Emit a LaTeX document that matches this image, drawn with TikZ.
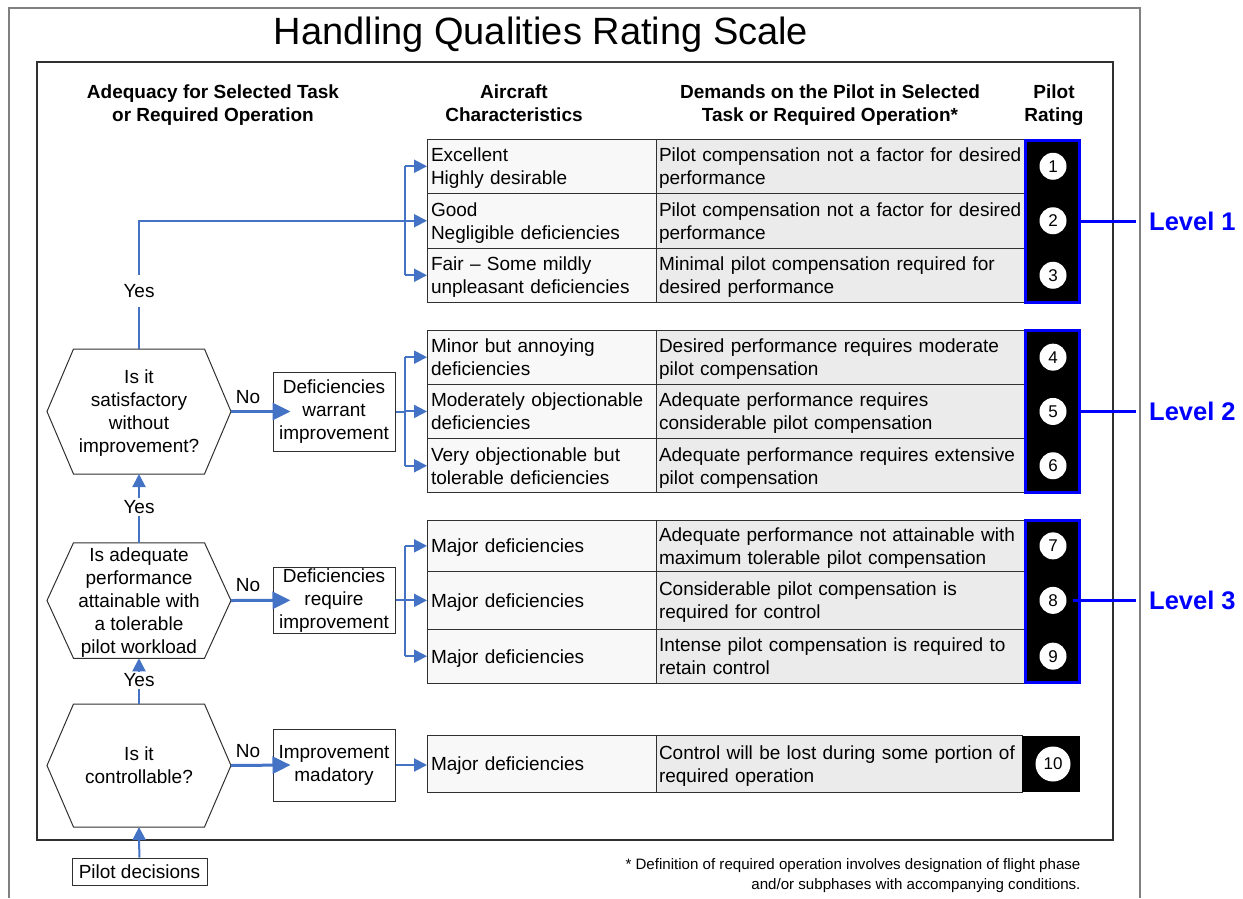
\documentclass[tikz,border=0pt]{standalone}
\usepackage{fontspec}
\setmainfont{Liberation Sans}
\usetikzlibrary{positioning,arrows.meta}

\definecolor{flowblue}{HTML}{4472C4}
\definecolor{lvlblue}{HTML}{0000FF}
\definecolor{cellA}{HTML}{F8F8F8}
\definecolor{cellB}{HTML}{EBEBEB}
\definecolor{edgegray}{HTML}{303030}

\begin{document}
\begin{tikzpicture}[
    x=1pt, y=-1pt,
    font=\fontsize{19}{23}\selectfont,
    hexq/.style={minimum width=184pt, inner sep=0pt, outer sep=0pt, text depth=0pt, align=center},
    hexline/.style={draw=edgegray, line width=1pt},
    decbox/.style={draw=edgegray, line width=1pt, minimum width=122pt, inner xsep=2pt, inner ysep=0pt, align=center},
    charcell/.style={draw=edgegray, line width=1pt, fill=cellA, text width=221pt, text depth=23pt, inner xsep=4pt, inner ysep=0pt, outer sep=0pt, align=left},
    demcell/.style={draw=edgegray, line width=1pt, fill=cellB, text width=363pt, text depth=23pt, inner xsep=3pt, inner ysep=0pt, outer sep=0pt, align=left},
    oneline/.style={text depth=0pt},
    ratecol/.style={draw=lvlblue, line width=3pt, fill=black, minimum width=54pt, minimum height=162pt, inner sep=0pt, outer sep=0pt, anchor=north west},
    rate/.style={circle, fill=white, minimum size=27pt, inner sep=0pt, font=\fontsize{17}{20}\selectfont},
    lvltag/.style={text=lvlblue, font=\fontsize{25.5}{30}\selectfont\bfseries, inner sep=0pt, anchor=west},
    head/.style={font=\fontsize{19}{23}\selectfont\bfseries, text depth=4.5pt, align=center},
    yesno/.style={inner sep=2pt},
    flow/.style={draw=flowblue, line width=2pt},
    arrow/.style={flow, -{Triangle[length=13pt,width=13pt]}},
    noarrow/.style={draw=flowblue, line width=3pt, -{Triangle[length=18pt,width=17pt]}},
    levline/.style={draw=lvlblue, line width=3pt}
]
\useasboundingbox (0,0) rectangle (1243,898);

% Frames
\draw[black!50, line width=1.5pt] (9,898) -- (9,8) -- (1140,8) -- (1140,898);
\draw[edgegray, line width=1.5pt] (37,62) rectangle (1113,840);

% Title and headings
\node (title) at (541,35) {\fontsize{38}{44}\selectfont Handling Qualities Rating Scale};
\node[head] (hadq) at (213,105.5) {Adequacy for Selected Task\\or Required Operation};
\node[head] (hair) at (514,105.5) {Aircraft\\Characteristics};
\node[head] (hdem) at (830,105.5) {Demands on the Pilot in Selected\\Task or Required Operation*};
\node[head] (hrat) at (1054,105.5) {Pilot\\Rating};

% Level 1 rows
\node[charcell, minimum height=54.5pt, anchor=north west] (a1) at (427,139) {Excellent\\Highly desirable};
\node[charcell, minimum height=54.5pt, below=0pt of a1] (a2) {Good\\Negligible deficiencies};
\node[charcell, minimum height=54.5pt, below=0pt of a2] (a3) {Fair – Some mildly\\unpleasant deficiencies};
\node[demcell, minimum height=54.5pt, right=0pt of a1] (d1) {Pilot compensation not a factor for desired\\performance};
\node[demcell, minimum height=54.5pt, right=0pt of a2] (d2) {Pilot compensation not a factor for desired\\performance};
\node[demcell, minimum height=54.5pt, right=0pt of a3] (d3) {Minimal pilot compensation required for\\desired performance};

% Level 2 rows
\node[charcell, minimum height=54.3pt, anchor=north west] (a4) at (427,330) {Minor but annoying\\deficiencies};
\node[charcell, minimum height=54.3pt, below=0pt of a4] (a5) {Moderately objectionable\\deficiencies};
\node[charcell, minimum height=54.3pt, below=0pt of a5] (a6) {Very objectionable but\\tolerable deficiencies};
\node[demcell, minimum height=54.3pt, right=0pt of a4] (d4) {Desired performance requires moderate\\pilot compensation};
\node[demcell, minimum height=54.3pt, right=0pt of a5] (d5) {Adequate performance requires\\considerable pilot compensation};
\node[demcell, minimum height=54.3pt, right=0pt of a6] (d6) {Adequate performance requires extensive\\pilot compensation};

% Level 3 rows
\node[charcell, oneline, minimum height=51.7pt, anchor=north west] (a7) at (427,520) {Major deficiencies};
\node[charcell, oneline, minimum height=57.3pt, below=0pt of a7] (a8) {Major deficiencies};
\node[charcell, oneline, minimum height=54.3pt, below=0pt of a8] (a9) {Major deficiencies};
\node[demcell, minimum height=51.7pt, right=0pt of a7] (d7) {Adequate performance not attainable with\\maximum tolerable pilot compensation};
\node[demcell, minimum height=57.3pt, right=0pt of a8] (d8) {Considerable pilot compensation is\\required for control};
\node[demcell, minimum height=54.3pt, right=0pt of a9] (d9) {Intense pilot compensation is required to\\retain control};

% Rating 10 row
\node[charcell, oneline, minimum height=56.6pt, anchor=north west] (a10) at (427,735.7) {Major deficiencies};
\node[demcell, text width=360pt, minimum height=56.6pt, right=0pt of a10] (d10) {Control will be lost during some portion of\\required operation};

% Rating columns
\node[ratecol] (rc1) at (1025.5,140) {};
\node[ratecol] (rc2) at (1025.5,330.5) {};
\node[ratecol] (rc3) at (1025.5,520.5) {};
\node[fill=black, minimum width=58pt, minimum height=56.6pt, inner sep=0pt, outer sep=0pt, right=0pt of d10] (rc4) {};

\coordinate (rx) at (1053,0);
\foreach \i in {1,...,9}
  \node[rate] (c\i) at (rx |- a\i) {\i};
\node[rate, minimum size=35pt] (c10) at (rx |- a10) {10};

% Levels
\node[lvltag] (lev1) at (1149,221) {Level 1};
\node[lvltag] (lev2) at (1149,411.5) {Level 2};
\node[lvltag] (lev3) at (1149,600.5) {Level 3};
\draw[levline, shorten >=13pt] (rc1.east) -- (lev1.west);
\draw[levline, shorten >=13pt] (rc2.east) -- (lev2.west);
\draw[levline, shorten <=6pt, shorten >=13pt] (c8.east) -- (c8.east -| lev3.west);

% Decisions
\node[hexq, minimum height=125pt] (qsat) at (139,411.5) {Is it\\satisfactory\\without\\improvement?};
\node[hexq, minimum height=115.5pt] (qadq) at (139,600.5) {Is adequate\\performance\\attainable with\\a tolerable\\pilot workload};
\node[hexq, minimum height=123pt] (qctl) at (139,765.5) {Is it\\controllable?};
\foreach \h in {qsat,qadq,qctl}
  \draw[hexline] (\h.west) -- ([xshift=26.5pt]\h.north west) -- ([xshift=-26.5pt]\h.north east)
    -- (\h.east) -- ([xshift=-26.5pt]\h.south east) -- ([xshift=26.5pt]\h.south west) -- cycle;

\node[decbox, minimum height=79pt] (warr) at (334,411.5) {Deficiencies\\warrant\\improvement};
\node[decbox, minimum height=66pt] (rreq) at (334,600.3) {Deficiencies\\require\\improvement};
\node[decbox, minimum height=72pt] (imad) at (334,765) {Improvement\\madatory};
\node[draw=edgegray, line width=1pt, minimum width=135pt, minimum height=27pt, inner sep=0pt] (pdec) at (139.5,871.5) {Pilot decisions};

% Yes path to Level 1
\coordinate (brx) at (405,0);
\node[yesno, inner ysep=9pt] (yes1) at (139,291) {Yes};
\draw[flow] (qsat.north) -- (yes1);
\draw[arrow] (yes1) |- (a2.west);
\draw[flow] (brx |- a1.west) -- (brx |- a3.west);
\draw[arrow] (brx |- a1.west) -- (a1.west);
\draw[arrow] (brx |- a3.west) -- (a3.west);

% No paths
\node (no1) at (248,397) {No};
\node (no2) at (248,585) {No};
\node (no3) at (248,751) {No};
\draw[noarrow] (qsat.east) -- ([xshift=18pt]warr.west);
\draw[noarrow] (qadq.east) -- ([xshift=18pt]rreq.west);
\draw[noarrow] (qctl.east) -- ([xshift=18pt]imad.west);

\draw[flow] (warr.east) -- (brx |- warr.east);
\draw[flow] (brx |- a4.west) -- (brx |- a6.west);
\foreach \r in {4,5,6}
  \draw[arrow] (brx |- a\r.west) -- (a\r.west);

\draw[flow] (rreq.east) -- (brx |- rreq.east);
\draw[flow] (brx |- a7.west) -- (brx |- a9.west);
\foreach \r in {7,8,9}
  \draw[arrow] (brx |- a\r.west) -- (a\r.west);

\draw[arrow] (imad.east) -- (imad.east -| a10.west);

% Yes paths upward
\node[yesno] (yes2) at (139,507) {Yes};
\draw[flow] (qadq.north) -- (yes2);
\draw[arrow] (yes2) -- (qsat.south);
\node[yesno] (yes3) at (139,680) {Yes};
\draw[flow] (qctl.north) -- (yes3);
\draw[arrow] (yes3) -- (qadq.south);
\draw[arrow] (pdec) -- (qctl.south);

% Footnote
\node[anchor=east, align=right, font=\fontsize{15.1}{20}\selectfont] (note) at (1084,876) {* Definition of required operation involves designation of flight phase\\and/or subphases with accompanying conditions.};

\end{tikzpicture}
\end{document}
